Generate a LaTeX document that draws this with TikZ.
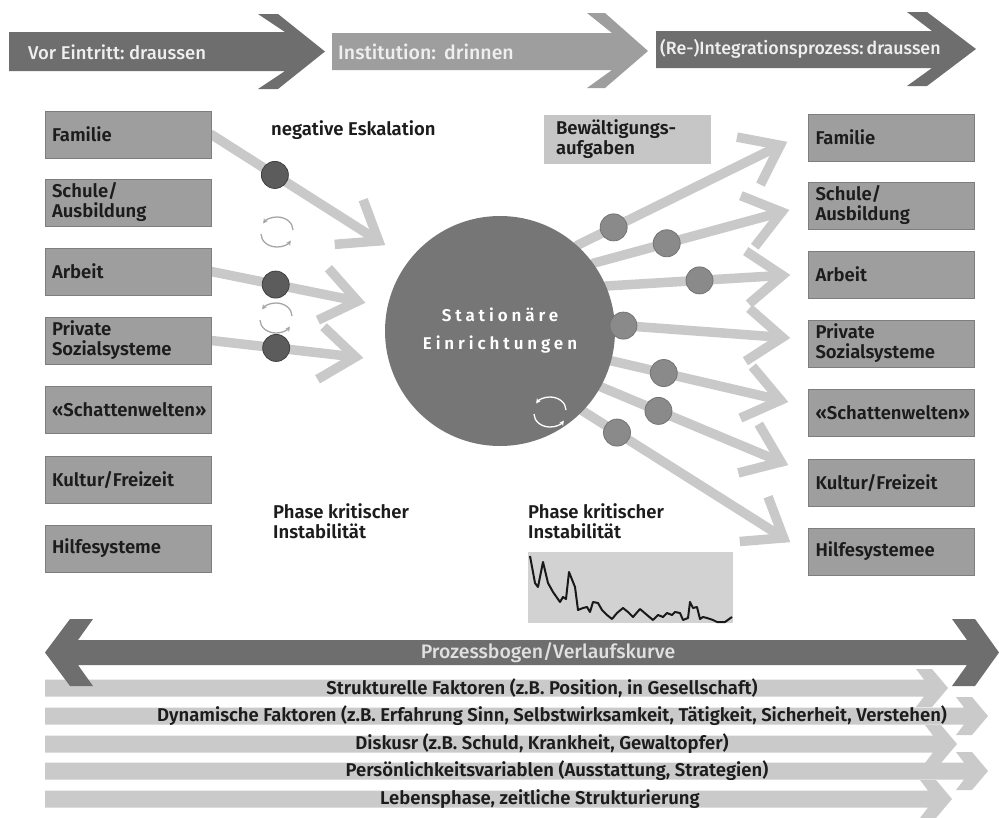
\documentclass[tikz,border=0pt]{standalone}
\usepackage{fontspec}
\setmainfont{Fira Sans}[BoldFont={Fira Sans SemiBold}]
\newfontfamily\medfont{Fira Sans Medium}
\usetikzlibrary{calc,arrows.meta,backgrounds}
\definecolor{darkA}{HTML}{6E6E6E}
\definecolor{midA}{HTML}{9E9E9E}
\definecolor{boxF}{HTML}{9E9E9E}
\definecolor{boxD}{HTML}{7E7E7E}
\definecolor{lightA}{HTML}{C9C9C9}
\definecolor{hubC}{HTML}{767676}
\definecolor{dotLc}{HTML}{5C5C5C}
\definecolor{dotRc}{HTML}{8A8A8A}
\definecolor{bewF}{HTML}{C6C6C6}
\definecolor{chartF}{HTML}{D2D2D2}
\definecolor{rowF}{HTML}{CACACA}
\definecolor{txtD}{HTML}{1C1C1C}
\definecolor{txtL}{HTML}{EFEFEF}
\newcommand\conn[2]{%
  \draw[shaft] (#1) -- (#2);
  \draw[chev] ($(#2)!44pt!37:(#1)$) -- (#2) -- ($(#2)!44pt!-37:(#1)$);}
\newcommand\cycicon[2]{%
  \draw[#2, line width=1.3pt, -{Stealth[length=5pt,width=5pt]}] ($(#1)+(16pt,2pt)$) arc[start angle=0, end angle=150, x radius=16pt, y radius=13pt];
  \draw[#2, line width=1.3pt, -{Stealth[length=5pt,width=5pt]}] ($(#1)+(-16pt,-2pt)$) arc[start angle=180, end angle=330, x radius=16pt, y radius=13pt];}
\newcommand\rowarr[5]{%
  \fill[rowF] (45,#1-8.5) -- (#2-24,#1-8.5) -- (#2-32,#1-19) -- (#2-16,#1-19) -- (#2,#1) -- (#2-16,#1+19) -- (#2-32,#1+19) -- (#2-24,#1+8.5) -- (45,#1+8.5) -- cycle;
  \node[rowtext] (#3) at (#4,#1) {#5};}
\begin{document}
\begin{tikzpicture}[x=1pt,y=-1pt,
  box/.style={draw=boxD, line width=0.6pt, fill=boxF, minimum height=47pt, inner xsep=7pt, inner ysep=0pt, text width=152pt, align=left, font=\bfseries\fontsize{18.5}{20}\selectfont, text=txtD},
  toptext/.style={anchor=west, inner sep=0pt, text=txtL, font=\medfont\fontsize{18.5}{20}\selectfont},
  lbl/.style={inner sep=0pt, align=left, text=txtD, font=\bfseries\fontsize{18.5}{20.5}\selectfont},
  shaft/.style={draw=lightA, line width=9.5pt, line cap=round},
  chev/.style={draw=lightA, line width=9.5pt, line join=miter, miter limit=10},
  dotL/.style={circle, inner sep=0pt, minimum size=27pt, fill=dotLc, draw=black!75, line width=0.8pt},
  dotR/.style={circle, inner sep=0pt, minimum size=27pt, fill=dotRc, draw=black!55, line width=0.8pt},
  rowtext/.style={inner sep=0pt, text=txtD, font=\bfseries\fontsize{18.5}{20}\selectfont},
  hubst/.style={circle, fill=hubC, inner sep=0pt, minimum size=230pt, align=center, text=white, font=\bfseries\fontsize{17}{28}\selectfont}
]
\useasboundingbox (0,0) rectangle (999,817);

% ---------- top phase arrows ----------
\fill[darkA] (9,32) -- (285,32) -- (258,14) -- (278,14) -- (325,51.5) -- (278,89) -- (258,89) -- (285,71) -- (9,71) -- cycle;
\node[toptext] (t1) at (28,52) {Vor Eintritt:\ draussen};
\fill[midA] (332,33) -- (612,33) -- (587,13) -- (605,13) -- (648,51) -- (605,88) -- (587,88) -- (612,70) -- (332,70) -- cycle;
\node[toptext, font=\medfont\fontsize{19.5}{20}\selectfont] (t2) at (338,52) {Institution:\ \,drinnen};
\fill[darkA] (656,31) -- (932,31) -- (907,12) -- (927,12) -- (976,49) -- (927,86) -- (907,86) -- (932,68) -- (656,68) -- cycle;
\node[toptext, font=\medfont\fontsize{17.8}{20}\selectfont] (t3) at (660,49) {(Re-)Integrationsprozess:\,draussen};

% ---------- left boxes ----------
\node[box] (l1) at (128,134.5) {Familie};
\node[box] (l2) at (128,202.5) {Schule/\\Ausbildung};
\node[box] (l3) at (128,271.5) {Arbeit};
\node[box] (l4) at (128,340.5) {Private\\Sozialsysteme};
\node[box] (l5) at (128,409.5) {«Schattenwelten»};
\node[box] (l6) at (128,479.5) {Kultur/Freizeit};
\node[box] (l7) at (128,548.5) {Hilfesysteme};

% ---------- right boxes ----------
\node[box] (r1) at (891.5,137.5) {Familie};
\node[box] (r2) at (891.5,205.5) {Schule/\\Ausbildung};
\node[box] (r3) at (891.5,274.5) {Arbeit};
\node[box] (r4) at (891.5,343.5) {Private\\Sozialsysteme};
\node[box] (r5) at (891.5,412.5) {«Schattenwelten»};
\node[box] (r6) at (891.5,482.5) {Kultur/Freizeit};
\node[box] (r7) at (891.5,551.5) {Hilfesystemee};

% ---------- central circle ----------
\node[hubst] (hub) at (500,331) {\addfontfeatures{LetterSpace=23}Stationäre\\\addfontfeatures{LetterSpace=23}Einrichtungen};

% tips
\coordinate (tl1) at (378.6,240.9);
\coordinate (tl2) at (357.6,301.2);
\coordinate (tl3) at (355.5,357);
\coordinate (tr1) at (780.2,145.3);
\coordinate (tr2) at (781.7,212);
\coordinate (tr3) at (782.4,275.4);
\coordinate (tr4) at (782.4,337.4);
\coordinate (tr5) at (780.6,400.2);
\coordinate (tr6) at (781,462);
\coordinate (tr7) at (783.6,537.9);

\begin{scope}[on background layer]
  \fill[white] (0,0) rectangle (999,817);
  \conn{l1.east}{tl1}
  \conn{l3.east}{tl2}
  \conn{l4.east}{tl3}
  \conn{hub.48}{tr1}
  \conn{hub.36}{tr2}
  \conn{hub.23}{tr3}
  \conn{hub.3}{tr4}
  \conn{hub.-15}{tr5}
  \conn{hub.-29}{tr6}
  \conn{hub.-44}{tr7}
\end{scope}

% dots on connectors
\path (l1.east) -- (tl1) node[pos=0.38, dotL] (dl1) {};
\path (l3.east) -- (tl2) node[pos=0.44, dotL] (dl2) {};
\path (l4.east) -- (tl3) node[pos=0.45, dotL] (dl3) {};
\path (hub.48) -- (tr1) node[pos=0.18, dotR] (dr1) {};
\path (hub.36) -- (tr2) node[pos=0.39, dotR] (dr2) {};
\path (hub.23) -- (tr3) node[pos=0.53, dotR] (dr3) {};
\path (hub.3) -- (tr4) node[pos=0.05, dotR] (dr4) {};
\path (hub.-15) -- (tr5) node[pos=0.31, dotR] (dr5) {};
\path (hub.-29) -- (tr6) node[pos=0.32, dotR] (dr6) {};
\path (hub.-44) -- (tr7) node[pos=0.17, dotR] (dr7) {};

% rotation icons
\cycicon{277,232}{black!35}
\cycicon{276,318}{black!35}
\cycicon{550,412}{white}

% ---------- labels ----------
\node[lbl, anchor=west] (neg) at (271,130) {negative Eskalation};
\node[box, fill=bewF, draw=bewF, minimum height=48pt, inner xsep=12pt, text width=142pt, font=\bfseries\fontsize{18.5}{20.5}\selectfont] (bew) at (627,139) {Bewältigungs-\\aufgaben};
\node[lbl, anchor=north west] (ph1) at (273,503) {Phase kritischer\\Instabilität};
\node[lbl, anchor=north west] (ph2) at (528,503) {Phase kritischer\\Instabilität};

% chart
\node[fill=chartF, minimum width=205pt, minimum height=71pt, inner sep=0pt] (chart) at (630.5,587.5) {};
\draw[black!90, line width=2pt, line join=round] plot coordinates {(530,556) (535,583) (538,587) (543,562) (548,583) (553,592) (560,602) (563,597) (566,599) (569,572) (575,587) (578,610) (583,608) (587,607) (590,612) (593,602) (598,603) (602,610) (607,615) (612,619) (617,613) (623,608) (628,612) (633,617) (640,609) (647,615) (653,620) (658,615) (663,617) (667,613) (672,615) (675,612) (680,613) (683,620) (688,618) (690,602) (693,608) (697,607) (700,619) (703,617) (707,618) (713,620) (717,622) (725,622) (732,617)};

% ---------- bottom factor arrows ----------
\rowarr{688}{948}{f1}{542}{Strukturelle Faktoren (z.B. Position, in Gesellschaft)}
\rowarr{716}{988}{f2}{552}{Dynamische Faktoren (z.B. Erfahrung Sinn, Selbstwirksamkeit, Tätigkeit, Sicherheit, Verstehen)}
\rowarr{744}{957}{f3}{542}{Diskusr (z.B. Schuld, Krankheit, Gewaltopfer)}
\rowarr{771}{988}{f4}{557}{Persönlichkeitsvariablen (Ausstattung, Strategien)}
\rowarr{799}{952}{f5}{540}{Lebensphase, zeitliche Strukturierung}

% ---------- process arrow ----------
\fill[darkA] (45,652.5) -- (70,619) -- (93,619) -- (78,640) -- (967,640) -- (952,619) -- (975,619) -- (999,652.5) -- (975,686) -- (952,686) -- (967,665) -- (78,665) -- (93,686) -- (70,686) -- cycle;
\node[toptext, anchor=center, text=black!12, font=\medfont\fontsize{19.5}{20}\selectfont] (pb) at (548,652.5) {Prozessbogen/Verlaufskurve};
\end{tikzpicture}
\end{document}
